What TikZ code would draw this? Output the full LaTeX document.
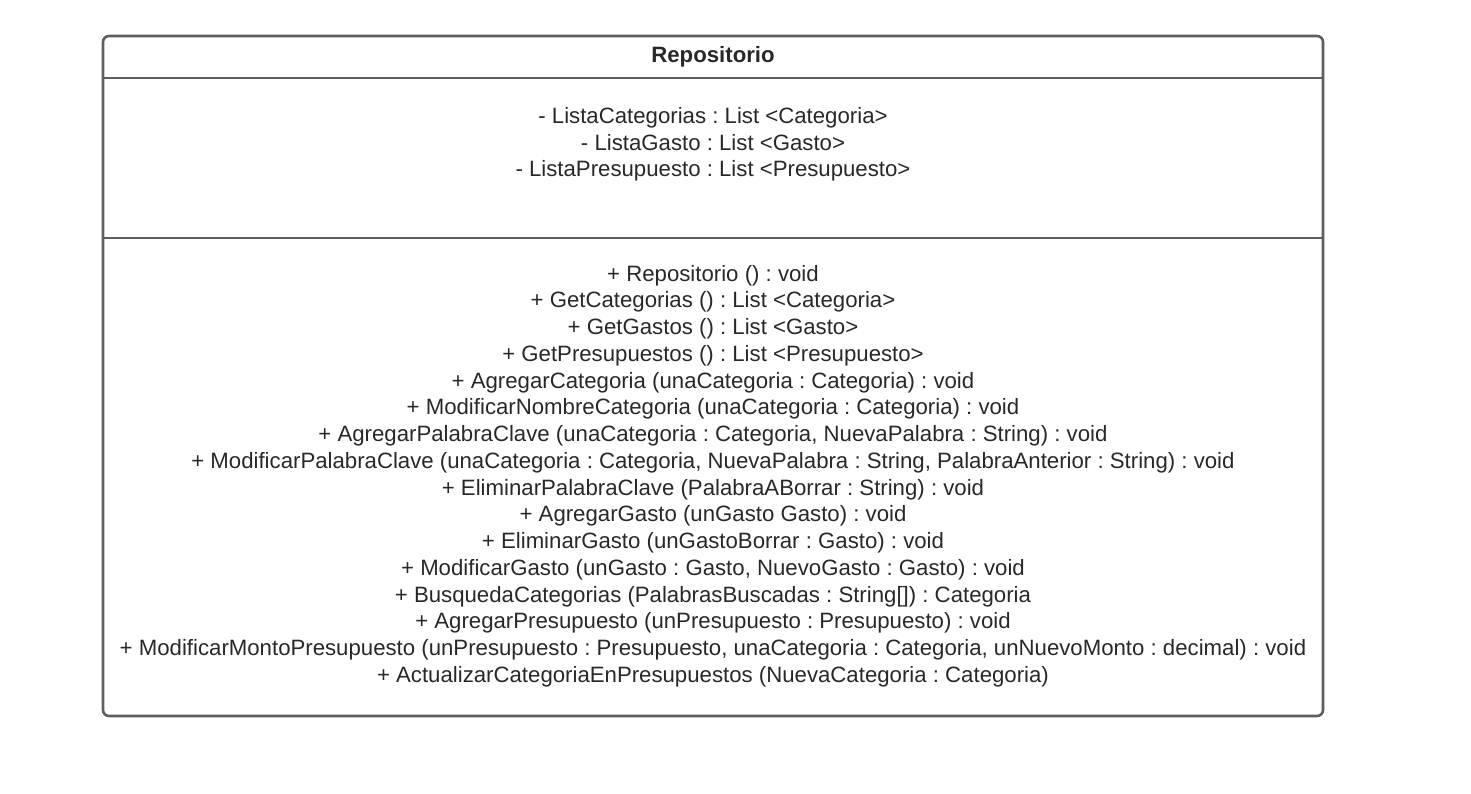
\documentclass[tikz,border=0pt]{standalone}
\usepackage{fontspec}
\setmainfont{Liberation Sans}
\frenchspacing
\definecolor{linegray}{HTML}{5E5E5E}
\definecolor{txtgray}{HTML}{282828}
\begin{document}
\begin{tikzpicture}[x=1pt,y=-1pt,
  umltext/.style={text=txtgray, font=\fontsize{22.2}{26.75}\selectfont, align=center, inner sep=0pt},
  frame/.style={draw=linegray, line width=2.6pt, rounded corners=6pt},
  divider/.style={draw=linegray, line width=2.6pt}]
\useasboundingbox (0,0) rectangle (1471,794);
\draw[frame] (103,36) rectangle (1323,716);
\coordinate (d1l) at (103,78);
\coordinate (d1r) at (1323,78);
\coordinate (d2l) at (103,238);
\coordinate (d2r) at (1323,238);
\draw[divider] (d1l) -- (d1r);
\draw[divider] (d2l) -- (d2r);
\node[umltext, font=\fontsize{22.2}{26.75}\selectfont\bfseries] (title) at (713,57) {Repositorio};
\node[umltext] (attrs) at (713,144.5) {- ListaCategorias : List <Categoria>\\
- ListaGasto : List <Gasto>\\
- ListaPresupuesto : List <Presupuesto>};
\node[umltext] (meths) at (713,476) {+ Repositorio () : void\\
+ GetCategorias () : List <Categoria>\\
+ GetGastos () : List <Gasto>\\
+ GetPresupuestos () : List <Presupuesto>\\
+ AgregarCategoria (unaCategoria : Categoria) : void\\
+ ModificarNombreCategoria (unaCategoria : Categoria) : void\\
+ AgregarPalabraClave (unaCategoria : Categoria, NuevaPalabra : String) : void\\
+ ModificarPalabraClave (unaCategoria : Categoria, NuevaPalabra : String, PalabraAnterior : String) : void\\
+ EliminarPalabraClave (PalabraABorrar : String) : void\\
+ AgregarGasto (unGasto Gasto) : void\\
+ EliminarGasto (unGastoBorrar : Gasto) : void\\
+ ModificarGasto (unGasto : Gasto, NuevoGasto : Gasto) : void\\
+ BusquedaCategorias (PalabrasBuscadas : String[]) : Categoria\\
+ AgregarPresupuesto (unPresupuesto : Presupuesto) : void\\
+ ModificarMontoPresupuesto (unPresupuesto : Presupuesto, unaCategoria : Categoria, unNuevoMonto : decimal) : void\\
+ ActualizarCategoriaEnPresupuestos (NuevaCategoria : Categoria)};
\end{tikzpicture}
\end{document}
